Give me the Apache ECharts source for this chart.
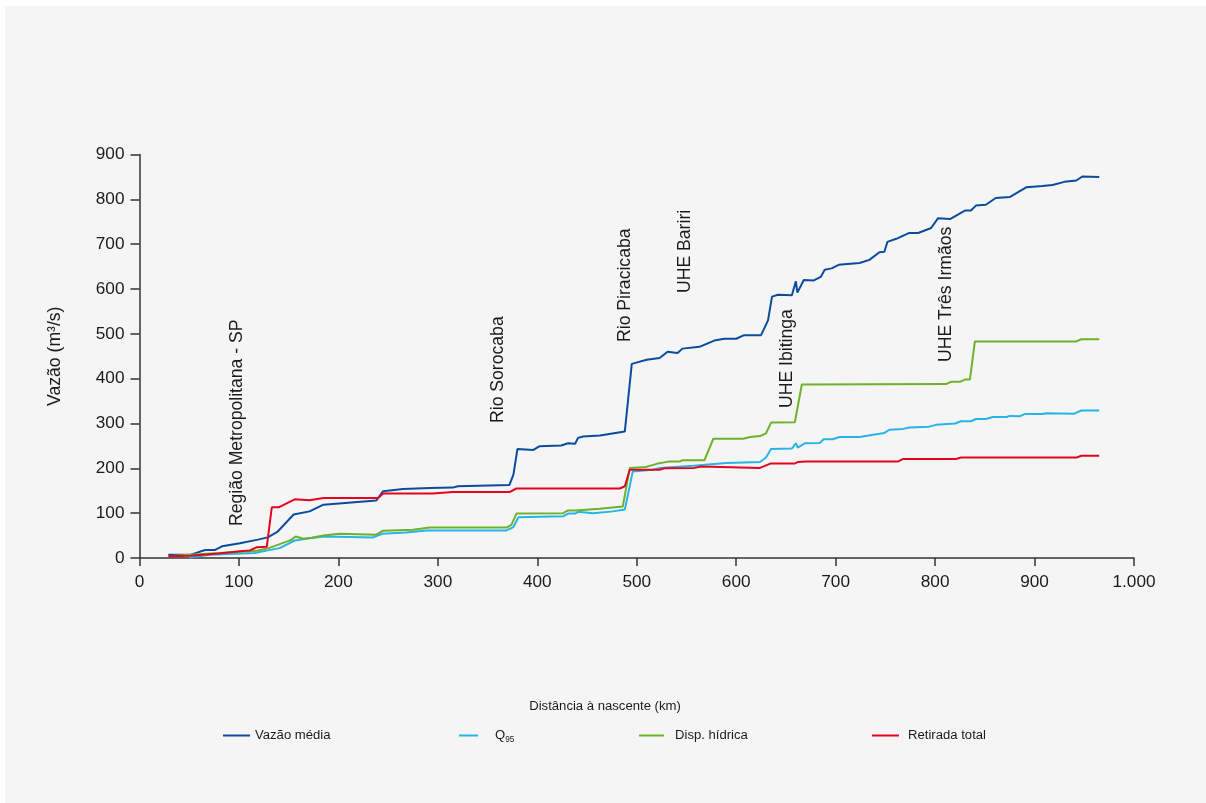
<!DOCTYPE html>
<html>
<head>
<meta charset="utf-8">
<title>Vazão ao longo do rio</title>
<script src="https://cdn.jsdelivr.net/npm/echarts@6/dist/echarts.min.js"></script>
<style>
  html, body { margin: 0; padding: 0; background: #fff; }
  #chart { width: 1206px; height: 803px; }
</style>
</head>
<body>
<div id="chart"></div>
<script>
// [km from source, m³/s]
const vazaoMedia = [[29,7],[51,7],[66,18],[76,18],[83,26],[101,33],[119,41],[129,46],[139,59],[155,97],[171,104],[185,119],[238,128],[245,149],[265,154],[292,156],[315,157],[320,160],[372,163],[376,186],[380,243],[396,241],[402,249],[424,251],[431,256],[438,255],[441,268],[446,271],[463,273],[488,282],[495,433],[510,442],[523,446],[531,460],[541,457],[546,467],[563,471],[578,485],[588,489],[600,489],[608,497],[625,497],[632,530],[636,583],[642,587],[656,586],[660,617],[661.5,592],[668,620],[678,619],[685,627],[689,643],[696,646],[703,654],[724,658],[734,665],[744,682],[749,683],[752,705],[761,712],[774,725],[783,725],[796,736],[803,758],[815,756],[830,775],[836,775],[841,786],[851,788],[861,803],[875,805],[892,827],[908,830],[918,832],[930,839],[942,842],[948,851],[965,850]];
const q95 = [[50,1],[71,7],[116,11],[129,17],[141,22],[156,39],[171,44],[186,48],[235,46],[244,54],[268,57],[289,61.5],[369,61.5],[376,69],[381,91],[426,93],[431,99],[438,99],[441,103],[456,100],[476,104],[488,108],[496,193],[516,197],[523,201],[557,206],[590,212],[624,214],[630,224],[635,243],[656,244],[660,256],[662,246],[669,256],[684,256.5],[688,265],[697,265],[704,270],[724,270],[744,277],[749,279],[754,286],[768,288],[774,291],[794,293],[801,297],[820,300],[826,305],[836,305],[841,310],[851,310],[858,314.5],[872,314.5],[875,317],[885,316],[890,321],[908,321],[912,323],[940,322],[947,329],[965,329]];
const dispHidrica = [[34,5],[51,7],[118,16],[130,22],[152,40],[157,48],[165,43],[173,45],[185,50],[201,54],[238,52],[245,61],[275,63],[292,68],[369,68],[374,74],[379,99],[426,100],[431,106],[438,106],[440,109],[463,110],[486,115],[493,201],[509,203],[520,210],[532,215],[543,215],[546,218],[568,218],[577,266],[607,266],[614,270],[624,272],[630,278],[635,302],[659,303],[666,387],[811,388],[816,393],[825,393],[830,398],[835,398],[840,483],[942,483],[947,488],[965,488]];
const retiradaTotal = [[29,4],[51,5],[80,10],[101,15],[111,17],[118,24],[128,25],[133,113],[140,113],[156,131],[171,129],[185,134],[240,134],[245,144],[295,144],[315,147],[372,147],[379,155],[483,155],[488,160],[493,197],[523,197],[528,200],[558,201],[565,204],[624,201],[635,211],[659,211],[662,214],[664,212],[670,215],[763,215.5],[768,221],[821,221],[826,224],[942,224],[947,228],[965,228]];

const seriesNames = ['Vazão média', 'Q95', 'Disp. hídrica', 'Retirada total'];
const seriesColors = ['#0b4c9e', '#27b4e8', '#6db22a', '#e3051f'];

// annotation label, km position it sits at
const marcos = ['Região Metropolitana - SP', 'Rio Sorocaba', 'Rio Piracicaba', 'UHE Bariri', 'UHE Ibitinga', 'UHE Três Irmãos'];

function hasFont(name) {
  const c = document.createElement('canvas').getContext('2d');
  const s = 'mmmmmmmmmmlliWWW0123456789';
  c.font = '40px monospace';
  const a = c.measureText(s).width;
  c.font = '40px "' + name + '", monospace';
  return c.measureText(s).width !== a;
}
const narrow = hasFont('Liberation Sans Narrow');
const FONT = narrow ? 'Liberation Sans Narrow' : 'Liberation Sans';
const k = narrow ? 1 : 0.82;
const TXT = '#1b1b1b';

const chart = echarts.init(document.getElementById('chart'));

// pixel spots for the rotated labels (center x, baseline-start y)
const marcoPos = [[237, 526], [498.5, 423], [625, 342], [685, 293], [787, 408], [946, 362]];

const legendPos = [[223, 27, 0], [459, 19, 12], [639, 25, 6], [872, 27, 4]];

const option = {
  backgroundColor: '#fff',
  animation: false,
  textStyle: { fontFamily: FONT, color: TXT },
  grid: { left: 139.5, right: 72, top: 154.5, bottom: 245, containLabel: false, outerBoundsMode: 'none' },
  xAxis: {
    type: 'value', min: 0, max: 1000, interval: 100,
    axisLine: { lineStyle: { color: '#333', width: 1.5 } },
    axisTick: { length: 8, lineStyle: { color: '#333', width: 1.5 } },
    axisLabel: {
      margin: 16, fontSize: 21 * k, color: TXT, fontFamily: FONT,
      formatter: v => String(v).replace(/\B(?=(\d{3})+(?!\d))/g, '.')
    },
    splitLine: { show: false }
  },
  yAxis: {
    type: 'value', min: 0, max: 900, interval: 100,
    name: 'Vazão (m³/s)', nameLocation: 'middle', nameGap: 75,
    nameTextStyle: { fontSize: 21.5 * k, color: TXT, fontFamily: FONT },
    axisLine: { show: true, lineStyle: { color: '#333', width: 1.5 } },
    axisTick: { show: true, length: 9, lineStyle: { color: '#333', width: 1.5 } },
    axisLabel: { margin: 15, fontSize: 21 * k, color: TXT, fontFamily: FONT },
    splitLine: { show: false }
  },
  legend: legendPos.map((p, i) => ({
    data: [seriesNames[i]],
    left: p[0], top: 729, padding: 0,
    icon: 'rect', itemWidth: p[1], itemHeight: 2,
    formatter: name => name === 'Q95' ? 'Q{s|95}' : name,
    textStyle: {
      fontSize: 16 * k, color: TXT, fontFamily: FONT, padding: [0, 0, 0, p[2]],
      rich: { s: { fontSize: 10 * k, fontFamily: FONT, color: TXT, padding: [9, 0, 0, 0] } }
    }
  })),
  series: [vazaoMedia, q95, dispHidrica, retiradaTotal].map((d, i) => ({
    name: seriesNames[i],
    type: 'line',
    data: d,
    showSymbol: false,
    symbol: 'none',
    color: seriesColors[i],
    lineStyle: { width: 2, color: seriesColors[i] },
    itemStyle: { color: seriesColors[i] }
  })),
  graphic: [
    {
      type: 'rect', z: -100, silent: true,
      shape: { x: 5, y: 6, width: 1201, height: 797 },
      style: { fill: '#f5f5f5' }
    },
    {
      type: 'text', x: 605, y: 706, silent: true,
      style: { text: 'Distância à nascente (km)', fontSize: 16 * k, fontFamily: FONT, fill: TXT, align: 'center', verticalAlign: 'middle' }
    }
  ].concat(marcos.map((t, i) => ({
    type: 'text', x: marcoPos[i][0], y: marcoPos[i][1], rotation: Math.PI / 2, silent: true,
    style: { text: t, fontSize: 21.5 * k, fontFamily: FONT, fill: TXT, align: 'left', verticalAlign: 'middle' }
  })))
};

chart.setOption(option);
</script>
</body>
</html>
